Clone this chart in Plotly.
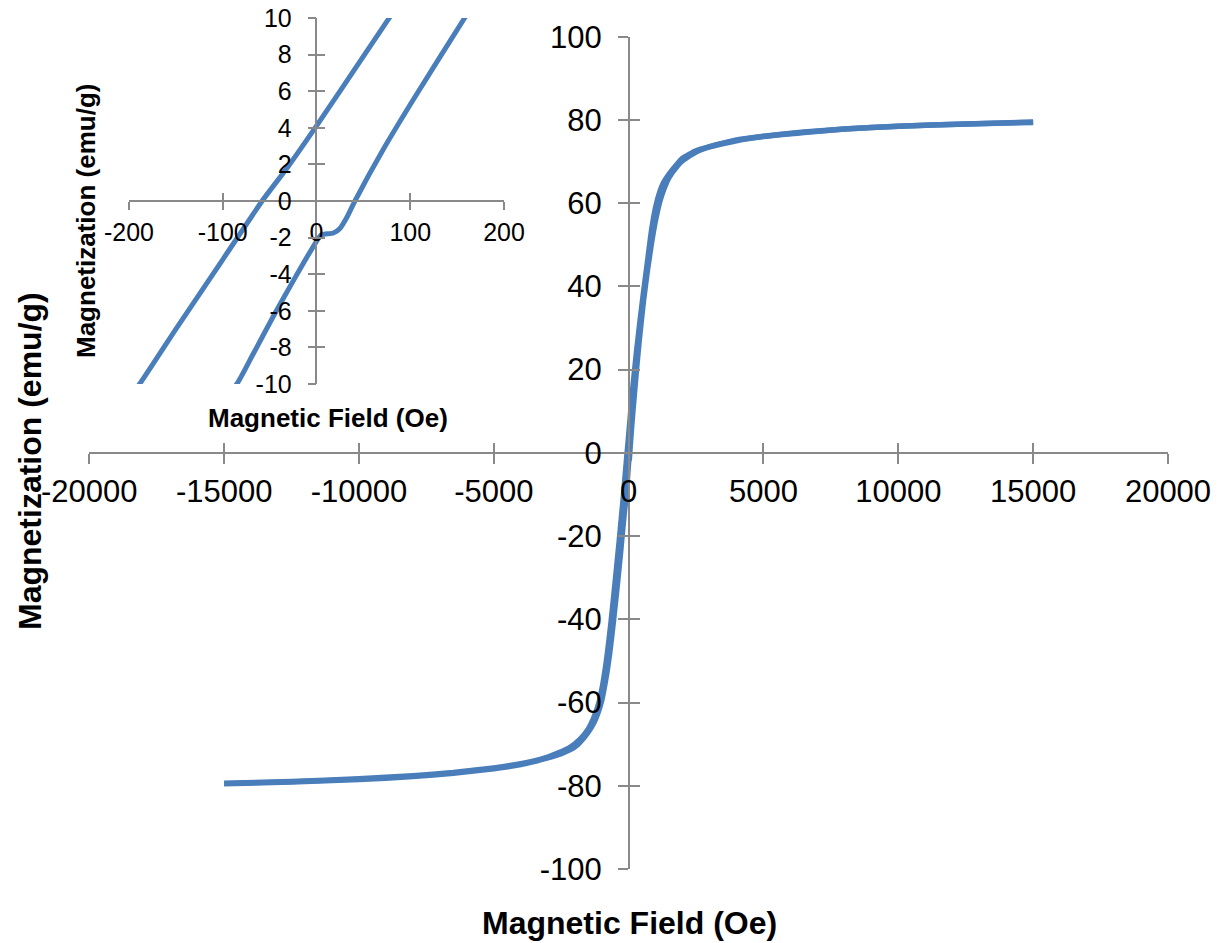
import plotly.graph_objects as go

# ---- data: hysteresis loop (field in Oe, magnetization in emu/g) ----
# descending branch (+15000 -> -15000)
h_desc = [15000, 12500, 10000, 8000, 6500, 5000, 4000, 3000, 2500, 2000, 1800, 1500,
          1300, 1150, 1000, 850, 700, 550, 400, 300, 200, 150, 100, 50, 0, -30, -58,
          -100, -150, -190, -250, -350, -500, -650, -800, -950, -1100, -1300, -1500,
          -1800, -2200, -2600, -3000, -3500, -4000, -5000, -6500, -8000, -10000,
          -12500, -15000]
m_desc = [79.4, 79.0, 78.5, 77.8, 77.1, 76.1, 75.2, 73.6, 72.6, 70.8, 69.4, 67.0,
          65.0, 62.6, 59.0, 53.5, 46.0, 38.5, 30.5, 24.8, 18.6, 15.3, 11.7, 7.9, 4.1, 1.9, 0.0,
          -3.2, -7.0, -10.1, -14.2, -21.2, -31.0, -40.5, -48.8, -55.3, -60.0, -63.8, -66.4,
          -68.8, -70.9, -72.1, -73.1, -74.0, -74.7, -75.7, -76.8, -77.6, -78.3,
          -79.0, -79.4]

# ascending branch (-15000 -> +15000)
h_asc = [-15000, -12500, -10000, -8000, -6500, -5000, -4000, -3000, -2500, -2000, -1800,
         -1500, -1300, -1150, -1000, -850, -700, -550, -400, -300, -200, -150, -85, -69,
         -46, -23, 0, 5, 18, 25, 32, 41, 71, 104, 158, 200, 300, 400, 550, 700, 850, 1000,
         1150, 1300, 1500, 1800, 2000, 2500, 3000, 4000, 5000, 6500, 8000, 10000, 12500, 15000]
m_asc = [-79.5, -79.1, -78.5, -77.8, -77.0, -75.9, -74.9, -73.3, -72.3, -70.7, -69.5,
         -67.1, -65.0, -62.7, -59.5, -54.5, -48.0, -39.7, -30.5, -24.0, -17.0, -13.8, -10.0, -8.5,
         -6.3, -4.2, -2.2, -1.85, -1.75, -1.5, -0.93, 0.0, 2.8, 5.6, 10.0, 13.2, 20.6, 27.5, 36.5, 44.0, 50.5, 56.0,
         60.3, 63.3, 66.2, 68.9, 70.2, 72.3, 73.5, 75.0, 76.0, 77.0, 77.8, 78.5, 79.0, 79.5]

main_xticks = [-20000, -15000, -10000, -5000, 0, 5000, 10000, 15000, 20000]
main_xlabels = ["-20000", "-15000", "-10000", "-5000", "0", "5000", "10000", "15000", "20000"]
main_yticks = [-100, -80, -60, -40, -20, 0, 20, 40, 60, 80, 100]
main_ylabels = ["-100", "-80", "-60", "-40", "-20", "0", "20", "40", "60", "80", "100"]
inset_xticks = [-200, -100, 0, 100, 200]
inset_xlabels = ["-200", "-100", "0", "100", "200"]
inset_yticks = [-10, -8, -6, -4, -2, 0, 2, 4, 6, 8, 10]
inset_ylabels = ["-10", "-8", "-6", "-4", "-2", "0", "2", "4", "6", "8", "10"]

title_x = "Magnetic Field (Oe)"
title_y = "Magnetization (emu/g)"

LINE = "#4A7EBB"
AXC = "#898989"
FONT = "Liberation Sans, Arial, sans-serif"

W, H = 1224, 943

# domains (paper fractions)
main_xd = [0.07296, 0.95425]
main_yd = [0.07847, 0.96108]
ins_xd = [0.10539, 0.41176]
ins_yd = [0.59279, 0.98091]

fig = go.Figure()
for hx, my in ((h_desc, m_desc), (h_asc, m_asc)):
    fig.add_trace(go.Scatter(x=hx, y=my, mode="lines", xaxis="x", yaxis="y",
                             line=dict(color=LINE, width=5.5, shape="spline", smoothing=0.5),
                             showlegend=False, hoverinfo="skip"))
for hx, my in ((h_desc, m_desc), (h_asc, m_asc)):
    fig.add_trace(go.Scatter(x=hx, y=my, mode="lines", xaxis="x2", yaxis="y2",
                             line=dict(color=LINE, width=5, shape="spline", smoothing=0.5),
                             showlegend=False, hoverinfo="skip"))
# dummy traces to activate the inward-tick overlay axes
fig.add_trace(go.Scatter(x=[], y=[], xaxis="x3", yaxis="y3", showlegend=False, hoverinfo="skip"))
fig.add_trace(go.Scatter(x=[], y=[], xaxis="x4", yaxis="y4", showlegend=False, hoverinfo="skip"))


def ax(domain, rng, tickvals, ticktext, pos, size, ticklen, standoff, inside=False, overlay=None):
    d = dict(domain=domain, range=rng, tickmode="array", tickvals=tickvals, ticktext=ticktext,
             anchor="free", position=pos, showgrid=False, zeroline=False, automargin=False,
             ticks="inside" if inside else "outside", ticklen=ticklen, tickwidth=1.5,
             tickcolor=AXC, showline=not inside, linecolor=AXC, linewidth=1.5,
             showticklabels=not inside, tickfont=dict(family=FONT, size=size, color="#000000"),
             fixedrange=True)
    if not inside:
        d["ticklabelstandoff"] = standoff
    if overlay:
        d["overlaying"] = overlay
    return d


main_xpos = (main_yd[0] + main_yd[1]) / 2
main_ypos = (main_xd[0] + main_xd[1]) / 2
ins_xpos = (ins_yd[0] + ins_yd[1]) / 2
ins_ypos = (ins_xd[0] + ins_xd[1]) / 2

fig.update_layout(
    width=W, height=H,
    margin=dict(l=0, r=0, t=0, b=0, pad=0, autoexpand=False),
    paper_bgcolor="white", plot_bgcolor="rgba(0,0,0,0)",
    xaxis=ax(main_xd, [-20000, 20000], main_xticks, main_xlabels, main_xpos, 31, 10, 1),
    yaxis=ax(main_yd, [-100, 100], main_yticks, main_ylabels, main_ypos, 31, 10, 10),
    xaxis3=ax(main_xd, [-20000, 20000], main_xticks, None, main_xpos, 31, 10, 0, inside=True, overlay="x"),
    yaxis3=ax(main_yd, [-100, 100], main_yticks, None, main_ypos, 31, 10, 0, inside=True, overlay="y"),
    xaxis2=ax(ins_xd, [-200, 200], inset_xticks, inset_xlabels, ins_xpos, 25, 8, 1),
    yaxis2=ax(ins_yd, [-10, 10], inset_yticks, inset_ylabels, ins_ypos, 25, 8, 11),
    xaxis4=ax(ins_xd, [-200, 200], inset_xticks, None, ins_xpos, 25, 8, 0, inside=True, overlay="x2"),
    yaxis4=ax(ins_yd, [-10, 10], inset_yticks, None, ins_ypos, 25, 8, 0, inside=True, overlay="y2"),
    annotations=[
        dict(text="<b>" + title_x + "</b>", x=630 / W, y=1 - 923 / H, xref="paper", yref="paper",
             showarrow=False, xanchor="center", yanchor="middle",
             font=dict(family=FONT, size=32, color="#000000")),
        dict(text="<b>" + title_y + "</b>", x=30 / W, y=1 - 461 / H, xref="paper", yref="paper",
             showarrow=False, xanchor="center", yanchor="middle", textangle=-90,
             font=dict(family=FONT, size=32, color="#000000")),
        dict(text="<b>" + title_x + "</b>", x=328 / W, y=1 - 418 / H, xref="paper", yref="paper",
             showarrow=False, xanchor="center", yanchor="middle",
             font=dict(family=FONT, size=26, color="#000000")),
        dict(text="<b>" + title_y + "</b>", x=86 / W, y=1 - 221 / H, xref="paper", yref="paper",
             showarrow=False, xanchor="center", yanchor="middle", textangle=-90,
             font=dict(family=FONT, size=26, color="#000000")),
    ],
)

fig.write_html("out.html", config={"displayModeBar": False},
               post_script="document.body.style.margin='0';document.body.style.overflow='hidden';")
